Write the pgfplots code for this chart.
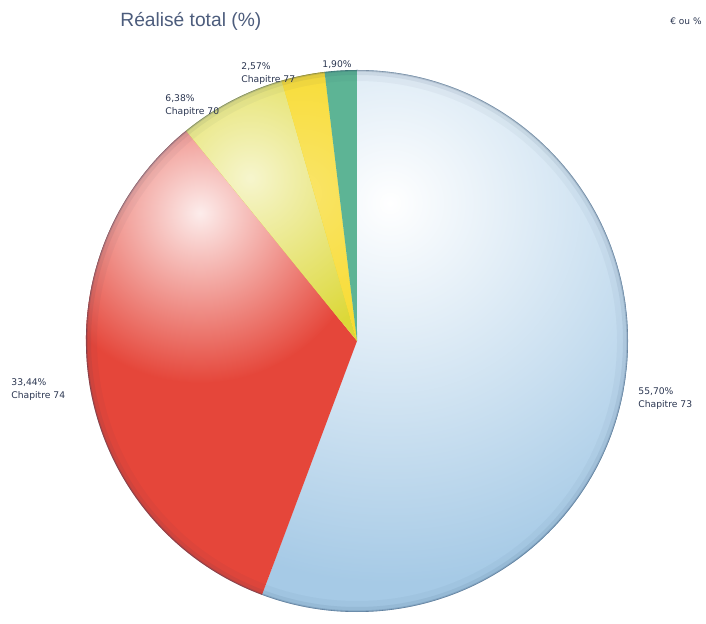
\documentclass[border=0pt]{standalone}
\usepackage{pgfplots}
\pgfplotsset{compat=1.18}
\usepackage{pgfplotstable}
\usepackage{fontspec}
\setmainfont{DejaVu Sans}
\newfontfamily\titlefont{Liberation Sans}
\definecolor{cBlue}{HTML}{A6CAE6}
\definecolor{cRim}{HTML}{1E3A5A}
\definecolor{cRed}{HTML}{E5463A}
\definecolor{cYel}{HTML}{DCD838}
\definecolor{cGold}{HTML}{F7D71A}
\definecolor{cTeal}{HTML}{5DB495}
\definecolor{cTitle}{HTML}{4C5C7C}
\definecolor{cLab}{HTML}{2A3550}
% share of each chapter, %, in clockwise order from 12 o'clock
\pgfplotstableread{
chap share
73 55.70
74 33.44
70 6.38
77 2.57
xx 1.90
}\piedata
\pgfplotstablegetelem{0}{share}\of\piedata \let\sA\pgfplotsretval
\pgfplotstablegetelem{1}{share}\of\piedata \let\sB\pgfplotsretval
\pgfplotstablegetelem{2}{share}\of\piedata \let\sC\pgfplotsretval
\pgfplotstablegetelem{3}{share}\of\piedata \let\sD\pgfplotsretval
\pgfplotstablegetelem{4}{share}\of\piedata \let\sE\pgfplotsretval
\pgfmathsetmacro\aA{90}
\pgfmathsetmacro\aB{\aA-3.6*\sA}
\pgfmathsetmacro\aC{\aB-3.6*\sB}
\pgfmathsetmacro\aD{\aC-3.6*\sC}
\pgfmathsetmacro\aE{\aD-3.6*\sD}
\pgfmathsetmacro\aF{\aE-3.6*\sE}
\def\cx{357}\def\cy{282}\def\R{271}
\newcommand\slice[2]{(axis cs:\cx,\cy) -- (axis cs:{\cx+\R*cos(#1)},{\cy+\R*sin(#1)}) arc[start angle=#1, end angle=#2, radius=135.5pt] -- cycle}
\begin{document}
\begin{tikzpicture}
\begin{axis}[hide axis, scale only axis, width=353pt, height=311.5pt,
  xmin=0, xmax=706, ymin=0, ymax=623, clip=false]
\path (axis cs:0,0) rectangle (axis cs:706,623);
% blue
\fill[cBlue] \slice{\aA}{\aB};
\begin{scope}
\clip \slice{\aA}{\aB};
\shade[overlay, inner color=white, outer color=cBlue] (axis cs:390,420) circle[radius=190pt];
\end{scope}
% red
\fill[cRed] \slice{\aB}{\aC};
\begin{scope}
\clip \slice{\aB}{\aC};
\shade[overlay, inner color=white!90!cRed, outer color=cRed] (axis cs:200,410) circle[radius=85pt];
\end{scope}
% yellow
\fill[cYel] \slice{\aC}{\aD};
\begin{scope}
\clip \slice{\aC}{\aD};
\shade[overlay, inner color=white!75!cYel, outer color=cYel] (axis cs:250,445) circle[radius=85pt];
\end{scope}
% gold
\fill[cGold] \slice{\aD}{\aE};
\begin{scope}
\clip \slice{\aD}{\aE};
\shade[overlay, inner color=white!35!cGold, outer color=cGold] (axis cs:300,430) circle[radius=100pt];
\end{scope}
% teal
\fill[cTeal] \slice{\aE}{\aF};
% rim darkening
\begin{scope}
\clip (axis cs:\cx,\cy) circle[radius=135.5pt];
\draw[line width=8pt, cRim, opacity=0.04] (axis cs:\cx,\cy) circle[radius=134pt];
\draw[line width=4pt, cRim, opacity=0.07] (axis cs:\cx,\cy) circle[radius=135pt];
\draw[line width=1.6pt, cRim, opacity=0.15] (axis cs:\cx,\cy) circle[radius=135.5pt];
\draw[line width=0.6pt, cRim, opacity=0.35] (axis cs:\cx,\cy) circle[radius=135.5pt];
\end{scope}
% texts
\node[anchor=west, text=cTitle, font=\titlefont\fontsize{9.6}{12}\selectfont, inner sep=0pt] at (axis cs:120,602) {Réalisé total (\%)};
\node[anchor=east, text=cLab, font=\fontsize{4.5}{5}\selectfont, inner sep=0pt] at (axis cs:702,602) {€ ou \%};
\node[anchor=west, text=cLab, font=\fontsize{4.6}{6.5}\selectfont, inner sep=0pt, align=left] at (axis cs:638,224) {55,70\%\\Chapitre 73};
\node[anchor=west, text=cLab, font=\fontsize{4.6}{6.5}\selectfont, inner sep=0pt, align=left] at (axis cs:11,233) {33,44\%\\Chapitre 74};
\node[anchor=west, text=cLab, font=\fontsize{4.6}{6.5}\selectfont, inner sep=0pt, align=left] at (axis cs:165,517) {6,38\%\\Chapitre 70};
\node[anchor=west, text=cLab, font=\fontsize{4.6}{6.5}\selectfont, inner sep=0pt, align=left] at (axis cs:241,549) {2,57\%\\Chapitre 77};
\node[anchor=west, text=cLab, font=\fontsize{4.6}{6.5}\selectfont, inner sep=0pt, align=left] at (axis cs:322,558) {1,90\%};
\end{axis}
\end{tikzpicture}
\end{document}
